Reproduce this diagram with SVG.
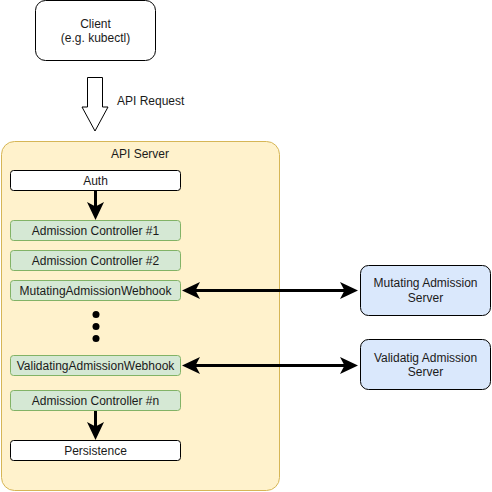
<svg xmlns="http://www.w3.org/2000/svg" width="492" height="492" viewBox="0 0 492 492">
<style>
text{font-family:"Liberation Sans",Arial,sans-serif;font-size:12px;fill:#1a1a1a;text-anchor:middle}
.w{fill:#ffffff;stroke:#000000;stroke-width:1}
.g{fill:#d5e8d4;stroke:#82b366;stroke-width:1}
.b{fill:#dae8fc;stroke:#000000;stroke-width:1}
.c{stroke:#000000;stroke-width:3;fill:none}
</style>
<defs>
<marker id="ah" markerUnits="userSpaceOnUse" viewBox="0 0 18 18" refX="14" refY="9" markerWidth="18" markerHeight="18" orient="auto-start-reverse">
<path d="M0,0.5 L18,9 L0,17.5 L4.5,9 Z" fill="#000000"/>
</marker>
</defs>
<rect width="492" height="492" fill="#ffffff"/>
<g id="client">
<rect class="w" x="35.5" y="0.5" width="120" height="60" rx="10"/>
<text x="95.5" y="28">Client</text>
<text x="95.5" y="42">(e.g. kubectl)</text>
</g>
<g id="api-request">
<path d="M87.5,77.5 L102.5,77.5 L102.5,107 L108,107 L95,131 L82,107 L87.5,107 Z" fill="#ffffff" stroke="#000000" stroke-width="1"/>
<text x="117" y="105" style="text-anchor:start">API Request</text>
</g>
<g id="api-server">
<rect x="1.5" y="141.5" width="278" height="349" rx="13" fill="#fff2cc" stroke="#d6b656" stroke-width="1"/>
<text x="140" y="158">API Server</text>
</g>
<g id="auth">
<rect class="w" x="10.5" y="170.5" width="170" height="20" rx="3"/>
<text x="95.5" y="185">Auth</text>
</g>
<g id="ac1">
<rect class="g" x="10.5" y="220.5" width="170" height="20" rx="3"/>
<text x="95.5" y="235">Admission Controller #1</text>
</g>
<g id="ac2">
<rect class="g" x="10.5" y="250.5" width="170" height="20" rx="3"/>
<text x="95.5" y="265">Admission Controller #2</text>
</g>
<g id="mutating-webhook">
<rect class="g" x="10.5" y="280.5" width="170" height="20" rx="3"/>
<text x="95.5" y="295">MutatingAdmissionWebhook</text>
</g>
<g id="dots">
<circle cx="96" cy="314.5" r="3.5" fill="#000000"/>
<circle cx="96" cy="326.5" r="3.5" fill="#000000"/>
<circle cx="96" cy="338.5" r="3.5" fill="#000000"/>
</g>
<g id="validating-webhook">
<rect class="g" x="10.5" y="355.5" width="170" height="20" rx="3"/>
<text x="95.5" y="370">ValidatingAdmissionWebhook</text>
</g>
<g id="acn">
<rect class="g" x="10.5" y="390.5" width="170" height="20" rx="3"/>
<text x="95.5" y="405">Admission Controller #n</text>
</g>
<g id="persistence">
<rect class="w" x="10.5" y="440.5" width="170" height="20" rx="3"/>
<text x="95.5" y="455">Persistence</text>
</g>
<g id="mutating-server">
<rect class="b" x="360.5" y="265.5" width="130" height="50" rx="8"/>
<text x="425.5" y="287">Mutating Admission</text>
<text x="425.5" y="302">Server</text>
</g>
<g id="validating-server">
<rect class="b" x="360.5" y="339.5" width="130" height="50" rx="8"/>
<text x="425.5" y="362">Validatig Admission</text>
<text x="425.5" y="376">Server</text>
</g>
<g id="connectors">
<line class="c" x1="95.5" y1="191" x2="95.5" y2="216" marker-end="url(#ah)"/>
<line class="c" x1="95.5" y1="411" x2="95.5" y2="436" marker-end="url(#ah)"/>
<line class="c" x1="186" y1="290.5" x2="354" y2="290.5" marker-start="url(#ah)" marker-end="url(#ah)"/>
<line class="c" x1="186" y1="365.5" x2="354" y2="365.5" marker-start="url(#ah)" marker-end="url(#ah)"/>
</g>
</svg>
